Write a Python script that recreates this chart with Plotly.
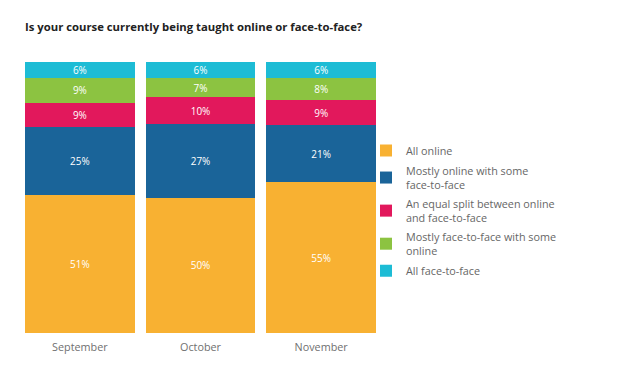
import plotly.graph_objects as go

months = ["September", "October", "November"]
series_names = [
    "All online",
    "Mostly online with some<br>face-to-face",
    "An equal split between online<br>and face-to-face",
    "Mostly face-to-face with some<br>online",
    "All face-to-face",
]
all_online = [51, 50, 55]
mostly_online = [25, 27, 21]
equal_split = [9, 10, 9]
mostly_f2f = [9, 7, 8]
all_f2f = [6, 6, 6]
colors = ["#F8B132", "#1A6499", "#E2185C", "#8CC341", "#1DBCD5"]

values = [all_online, mostly_online, equal_split, mostly_f2f, all_f2f]

fig = go.Figure()
for i, (name, vals, c) in enumerate(zip(series_names, values, colors)):
    fig.add_trace(go.Bar(
        x=months, y=vals, name=name, legendgroup=f"g{i}",
        marker=dict(color=c, line=dict(width=0)),
        text=[f"{v}%" for v in vals], textposition="inside", insidetextanchor="middle",
        textangle=0,
        textfont=dict(color="white", size=11.5, family="Open Sans"),
        hoverinfo="skip",
    ))

fig.update_layout(
    barmode="stack",
    barnorm="percent",
    bargap=0.09,
    width=619, height=374,
    paper_bgcolor="white", plot_bgcolor="white",
    margin=dict(l=0, r=0, t=0, b=0),
    font=dict(family="Open Sans", color="#666666", size=10.5),
    title=dict(text="<b>Is your course currently being taught online or face-to-face?</b>",
               x=25/619, xanchor="left", y=1-27/374, yanchor="middle",
               font=dict(size=11.3, color="#222222", family="Open Sans")),
    xaxis=dict(domain=[19.5/619, 381.5/619], showgrid=False, showline=False, zeroline=False,
               ticks="", automargin=False, ticklabelstandoff=6,
               tickfont=dict(size=10.8, color="#707070")),
    yaxis=dict(domain=[(374-333)/374, (374-62)/374], range=[0, 100], visible=False,
               automargin=False),
    uniformtext=dict(minsize=8, mode="show"),
    legend=dict(x=366/619, xanchor="left", y=1-136/374, yanchor="top",
                traceorder="grouped", font=dict(size=10.8, color="#666666"),
                itemwidth=30, tracegroupgap=2, bgcolor="rgba(0,0,0,0)"),
)

fig.write_html("out.html", config={"displayModeBar": False},
               post_script="document.body.style.margin='0';")
